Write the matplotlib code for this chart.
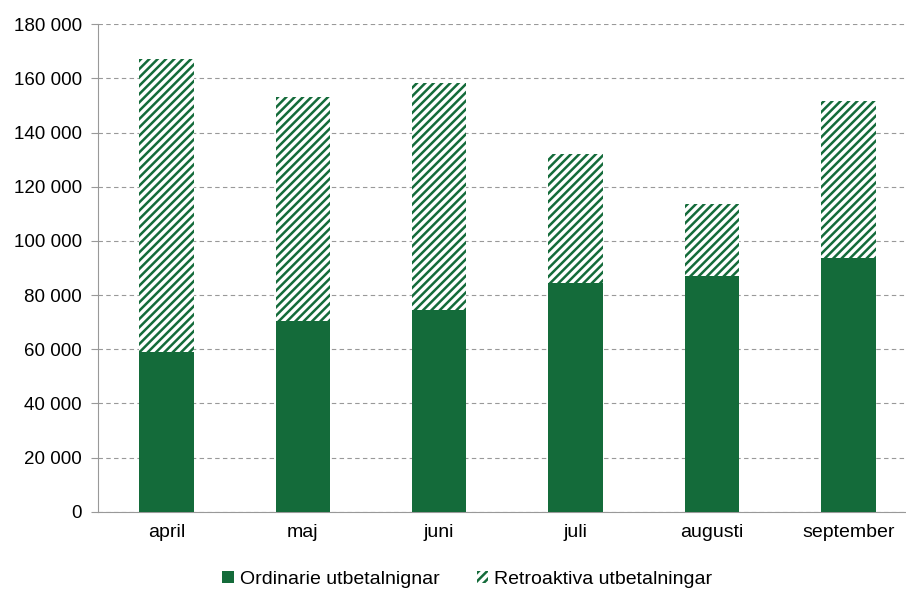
import matplotlib.pyplot as plt
import numpy as np

plt.rcParams['font.family'] = ['Liberation Sans', 'DejaVu Sans']
plt.rcParams['hatch.linewidth'] = 1.8

months = ['april', 'maj', 'juni', 'juli', 'augusti', 'september']
ordinarie = [59000, 70500, 74500, 84500, 87000, 93700]
retro = [108000, 82700, 83800, 47700, 26800, 58000]
yticks = np.arange(0, 180001, 20000)
ytick_labels = ['{:,}'.format(v).replace(',', ' ') for v in yticks]

green = '#146b3a'

fig = plt.figure(figsize=(9.06, 5.89), dpi=100)
ax = fig.add_axes([0.1085, 0.131, 0.903, 0.828])

x = np.arange(len(months))
ax.bar(x, ordinarie, width=0.4, color=green, label='Ordinarie utbetalnignar', zorder=3)
ax.bar(x, retro, width=0.4, bottom=ordinarie, color='white', edgecolor=green,
       hatch='////', linewidth=0, label='Retroaktiva utbetalningar', zorder=3)

ax.set_xlim(-0.5, 5.5)
ax.set_ylim(0, 180000)
ax.set_yticks(yticks)
ax.set_yticklabels(ytick_labels)
ax.set_xticks(x)
ax.set_xticklabels(months)
ax.tick_params(axis='x', length=0, pad=9, labelsize=14)
ax.tick_params(axis='y', length=5, color='#999999', labelsize=13.5, pad=7)

ax.grid(axis='y', color='#999999', linestyle=(0, (4, 3)), linewidth=0.8, zorder=0)
for s in ['top', 'right']:
    ax.spines[s].set_visible(False)
ax.spines['left'].set_color('#999999')
ax.spines['bottom'].set_color('#999999')

ax.legend(loc='upper center', bbox_to_anchor=(0.451, -0.085), ncol=2, frameon=False,
          fontsize=14, handlelength=0.6, handleheight=0.6, columnspacing=1.9,
          handletextpad=0.3)

plt.savefig('out.png')
